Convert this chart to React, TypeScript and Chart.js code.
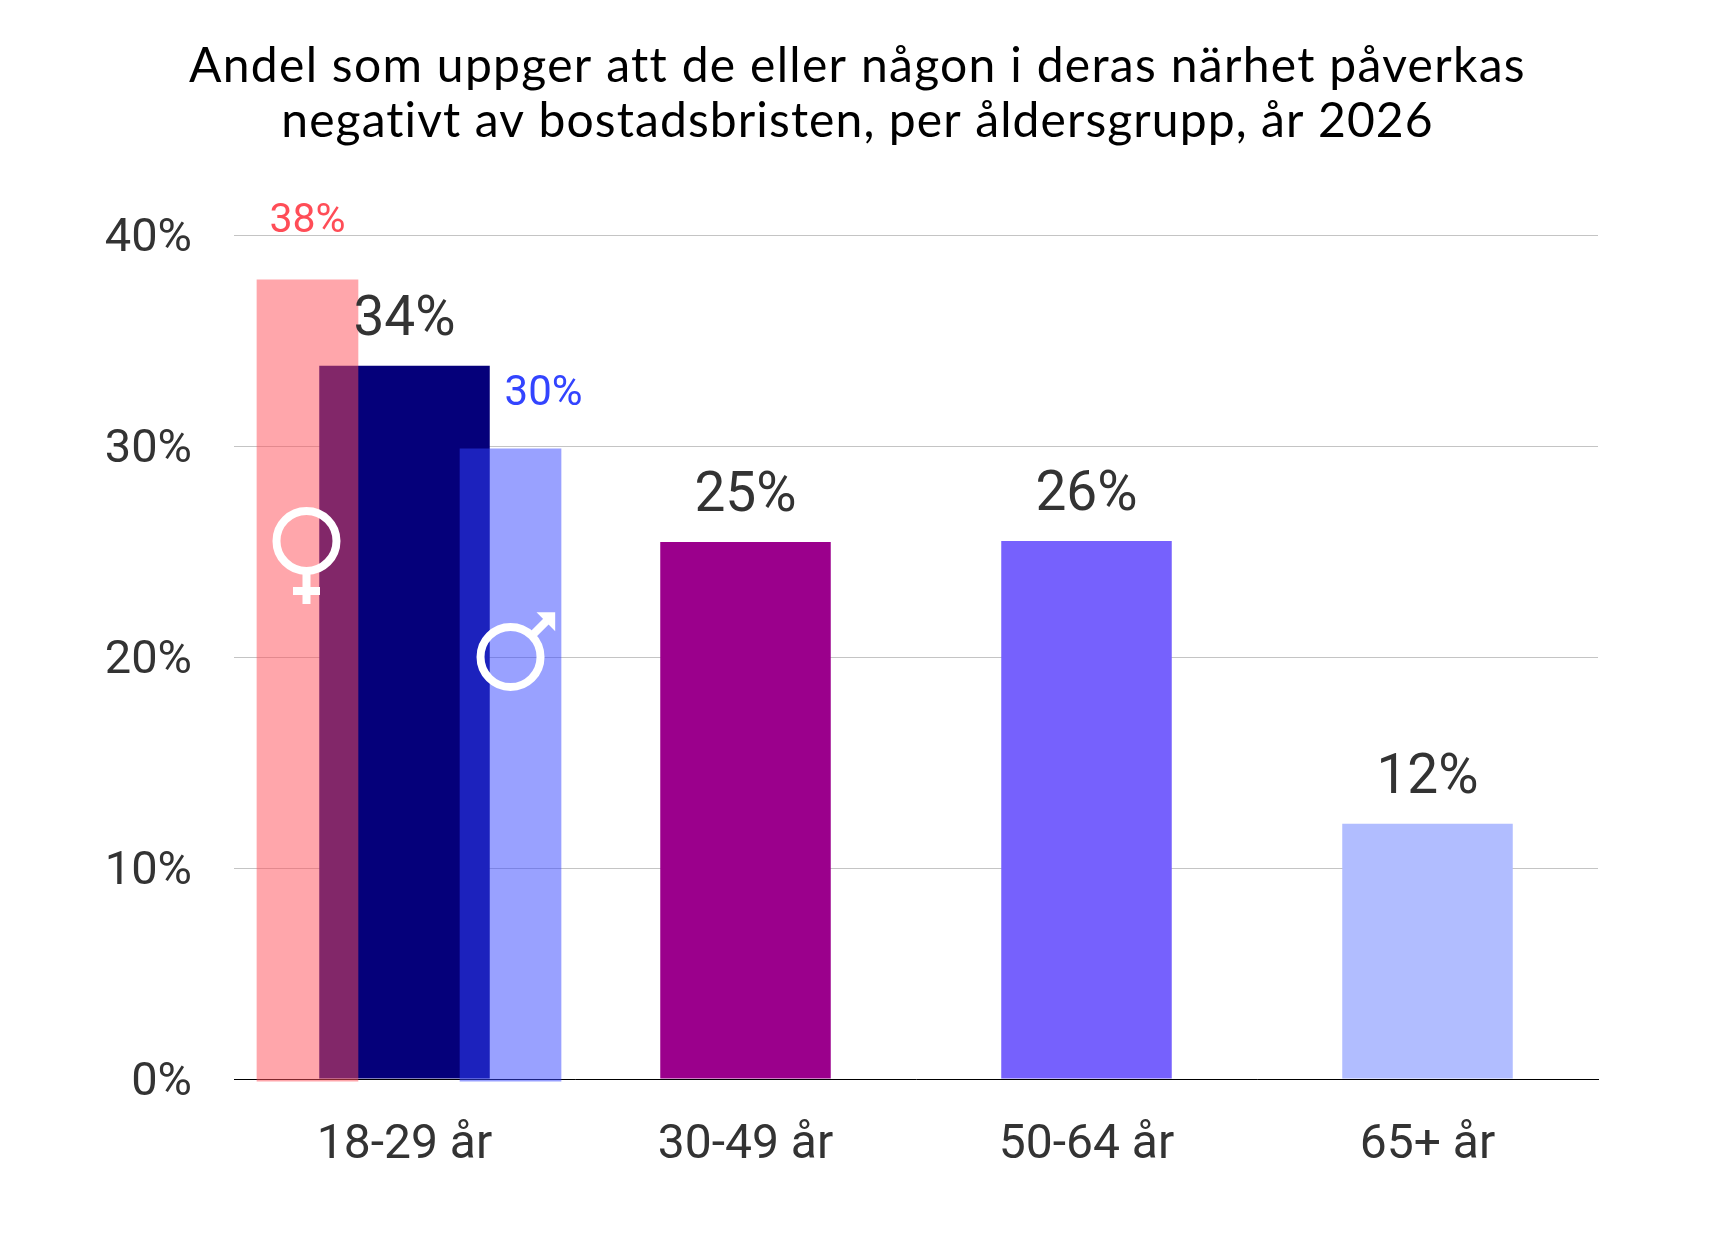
import { useEffect, useRef } from "react"
import { Chart, registerables } from "chart.js"

Chart.register(...registerables)

const titleLines = ["Andel som uppger att de eller någon i deras närhet påverkas", "negativt av bostadsbristen, per åldersgrupp, år 2026"]
const categories = ["18-29 år", "30-49 år", "50-64 år", "65+ år"]
const totalValues = [33.8, 25.45, 25.5, 12.1]
const totalLabels = ["34%", "25%", "26%", "12%"]
const totalColors = ["#05007a", "#9b008c", "#7661fd", "#b1bdff"]

// women and men in the youngest group, placed on a hidden 0-4 axis (one unit = one category)
const womenPoint = [{ x: 0.2155, y: 37.87 }]
const menPoint = [{ x: 0.8109, y: 29.86 }]
const womenLabel = "38%"
const menLabel = "30%"
const womenSymbolValue = 25.5
const menSymbolValue = 20

const labelPlugin = {
  id: "barLabels",
  beforeDraw(chart: any) {
    // title is drawn here because the title plugin has no letter spacing
    const ctx = chart.ctx
    ctx.save()
    ctx.textAlign = "center"
    ctx.textBaseline = "alphabetic"
    ctx.fillStyle = "#000000"
    ctx.font = "48px Lato"
    ctx.letterSpacing = "1.3px"
    ctx.fillText(titleLines[0], chart.width / 2, 81.5)
    ctx.letterSpacing = "1.1px"
    ctx.fillText(titleLines[1], chart.width / 2, 136.5)
    ctx.restore()
  },
  afterDatasetsDraw(chart: any) {
    const ctx = chart.ctx
    const y = chart.scales.y
    ctx.save()
    ctx.textAlign = "center"
    ctx.textBaseline = "alphabetic"

    const total = chart.getDatasetMeta(0).data
    ctx.fillStyle = "#333333"
    ctx.font = "55px Roboto"
    total.forEach((bar: any, i: number) => {
      ctx.fillText(totalLabels[i], bar.x, bar.y - 31)
    })

    const women = chart.getDatasetMeta(1).data[0]
    const men = chart.getDatasetMeta(2).data[0]
    ctx.fillStyle = "#ff4d57"
    ctx.font = "41px Roboto"
    ctx.fillText(womenLabel, women.x, women.y - 48)
    ctx.fillStyle = "#3344ff"
    ctx.font = "42px Roboto"
    ctx.fillText(menLabel, men.x + 33, men.y - 44)

    // gender symbols
    ctx.strokeStyle = "#ffffff"
    ctx.fillStyle = "#ffffff"
    ctx.lineWidth = 8
    const fy = y.getPixelForValue(womenSymbolValue)
    const fx = women.x - 1
    ctx.beginPath()
    ctx.arc(fx, fy, 30, 0, Math.PI * 2)
    ctx.stroke()
    ctx.beginPath()
    ctx.moveTo(fx, fy + 30)
    ctx.lineTo(fx, fy + 63)
    ctx.moveTo(fx - 13.5, fy + 50)
    ctx.lineTo(fx + 13.5, fy + 50)
    ctx.stroke()

    const my = y.getPixelForValue(menSymbolValue)
    const mx = men.x
    ctx.beginPath()
    ctx.arc(mx, my, 30, 0, Math.PI * 2)
    ctx.stroke()
    ctx.beginPath()
    ctx.moveTo(mx + 21, my - 21)
    ctx.lineTo(mx + 36, my - 36)
    ctx.stroke()
    ctx.beginPath()
    ctx.moveTo(mx + 44.7, my - 44.7)
    ctx.lineTo(mx + 26, my - 44.7)
    ctx.lineTo(mx + 44.7, my - 25.7)
    ctx.closePath()
    ctx.fill()
    ctx.restore()
  },
}

export default function App() {
  const chartRef = useRef<HTMLCanvasElement>(null)

  useEffect(() => {
    if (!chartRef.current) return
    document.body.style.margin = "0"

    const chart = new Chart(chartRef.current, {
      type: "bar",
      data: {
        labels: categories,
        datasets: [
          {
            label: "Totalt",
            data: totalValues,
            backgroundColor: totalColors,
            barPercentage: 0.5,
            categoryPercentage: 1,
            grouped: false,
            order: 2,
          },
          {
            label: "Kvinnor",
            data: womenPoint,
            xAxisID: "x2",
            backgroundColor: "rgba(255, 77, 87, 0.5)",
            barPercentage: 1,
            categoryPercentage: 1,
            maxBarThickness: 101,
            grouped: false,
            base: -0.1,
            clip: false,
            order: 1,
          },
          {
            label: "Män",
            data: menPoint,
            xAxisID: "x2",
            backgroundColor: "rgba(51, 68, 255, 0.5)",
            barPercentage: 1,
            categoryPercentage: 1,
            maxBarThickness: 101,
            grouped: false,
            base: -0.1,
            clip: false,
            order: 1,
          },
        ] as any,
      },
      options: {
        responsive: false,
        animation: false,
        layout: { padding: { left: 0, right: 117, top: 235, bottom: 0 } },
        scales: {
          x: {
            grid: { display: false, drawTicks: false },
            border: { color: "#000000", width: 1 },
            ticks: { color: "#333333", font: { family: "Roboto", size: 48 }, padding: 38 },
            afterFit: (s: any) => { s.height = 155 },
          },
          x2: {
            type: "linear",
            display: false,
            offset: false,
            min: 0,
            max: 4,
          },
          y: {
            min: 0,
            max: 40,
            grid: { color: "#c4c4c4", drawTicks: false },
            border: { display: false },
            ticks: {
              stepSize: 10,
              color: "#333333",
              font: { family: "Roboto", size: 47 },
              padding: 42,
              labelOffset: 4,
              callback: (v: any) => v + "%",
            },
            afterFit: (s: any) => { s.width = 234 },
          },
        },
        plugins: {
          legend: { display: false },
          tooltip: { enabled: false },
        },
      } as any,
      plugins: [labelPlugin],
    })

    return () => {
      chart.destroy()
    }
  }, [])

  return <canvas ref={chartRef} width={1715} height={1234} style={{ display: "block" }}></canvas>
}
